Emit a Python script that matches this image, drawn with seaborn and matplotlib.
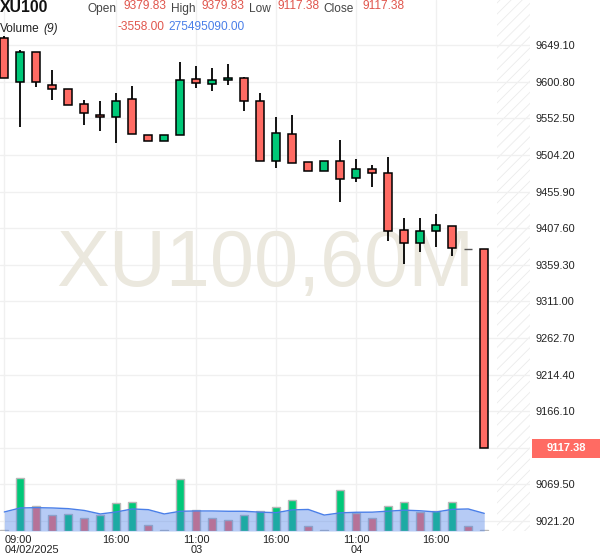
import numpy as np
import pandas as pd
import matplotlib
matplotlib.use("Agg")
import matplotlib.pyplot as plt
import matplotlib.transforms as mtransforms
from matplotlib.patches import Rectangle
import seaborn as sns

# ---------------- data ----------------
opens  = [9658.3, 9600.3, 9639.9, 9596.3, 9591.0, 9571.2, 9556.7, 9554.1, 9577.8, 9530.3,
          9522.4, 9530.7, 9604.2, 9597.6, 9602.9, 9605.5, 9575.2, 9496.0, 9531.6, 9494.7,
          9482.8, 9496.0, 9473.5, 9485.4, 9480.1, 9404.9, 9387.8, 9403.6, 9410.2, 9379.83,
          9379.83]
highs  = [9662.0, 9642.9, 9640.5, 9616.5, 9591.0, 9576.5, 9575.2, 9585.7, 9595.0, 9530.3,
          9530.3, 9626.7, 9621.4, 9618.7, 9624.0, 9606.9, 9585.7, 9554.1, 9556.7, 9494.7,
          9496.0, 9523.7, 9498.6, 9490.7, 9501.3, 9420.7, 9420.7, 9426.0, 9410.2, 9379.83,
          9379.83]
lows   = [9605.5, 9540.9, 9594.5, 9576.5, 9569.9, 9543.5, 9536.4, 9519.7, 9531.6, 9522.4,
          9522.4, 9530.7, 9592.3, 9588.4, 9597.1, 9562.0, 9496.0, 9486.7, 9493.4, 9482.8,
          9482.8, 9441.9, 9468.3, 9461.7, 9390.4, 9360.0, 9375.9, 9382.5, 9370.6, 9379.83,
          9117.38]
closes = [9605.5, 9639.9, 9600.3, 9591.0, 9569.9, 9559.3, 9554.1, 9575.2, 9531.6, 9522.4,
          9530.3, 9602.9, 9598.9, 9602.9, 9605.5, 9575.2, 9496.0, 9532.9, 9493.4, 9482.8,
          9496.0, 9472.2, 9485.4, 9480.1, 9403.6, 9387.8, 9403.6, 9411.6, 9381.1, 9379.83,
          9117.38]
# volume (millions)
volume = [520, 21200, 10120, 6520, 6800, 5200, 6400, 11200, 11600, 2400,
          400, 20680, 8400, 5320, 4520, 6520, 8000, 9600, 12400, 2000,
          520, 16280, 7320, 5200, 10000, 11480, 7600, 8000, 11480, 2000,
          275.5]
# Volume (9) moving average
volume_ma = [7600, 9200, 9320, 9200, 8920, 8200, 6800, 7600, 8800, 8520,
             6800, 7880, 8000, 8000, 7880, 7880, 7520, 7320, 8440, 8600,
             6360, 7240, 7480, 7520, 7920, 8320, 8080, 7600, 8640, 8800,
             7040]
xtick_idx = [0, 7, 12, 17, 22, 27]
xtick_labels = ["09:00\n04/02/2025", "16:00", "11:00\n03", "16:00", "11:00\n04", "16:00"]
y_ticks = [9021.20, 9069.50, 9117.80, 9166.10, 9214.40, 9262.70, 9311.00,
           9359.30, 9407.60, 9455.90, 9504.20, 9552.50, 9600.80, 9649.10]
symbol = "XU100"
watermark = "XU100,60M"
last_open, last_high, last_low, last_close = 9379.83, 9379.83, 9117.38, 9117.38
change_text = "-3558.00"
last_volume_text = "275495090.00"

# ---------------- style ----------------
GREEN = "#00c878"
RED = "#ff6b63"
TXT_RED = "#e0554c"
BLUE = "#4a7fe8"

sns.set_theme(style="white")
plt.rcParams["font.family"] = ["Liberation Sans", "DejaVu Sans"]
plt.rcParams["hatch.linewidth"] = 0.6

W, H = 600, 558
fig = plt.figure(figsize=(W / 100, H / 100), dpi=100)
fig.patch.set_facecolor("white")

ax_left, ax_right, ax_top, ax_bottom = 0, 530, 0, 531
rect = [ax_left / W, 1 - ax_bottom / H, (ax_right - ax_left) / W, (ax_bottom - ax_top) / H]
ax = fig.add_axes(rect)
ax.set_facecolor("white")

n = len(opens)
idx = np.arange(n)
df = pd.DataFrame({"i": idx, "open": opens, "high": highs, "low": lows,
                   "close": closes, "volume": volume, "ma": volume_ma})

XMIN, XMAX = -0.27, 32.86
ax.set_xlim(XMIN, XMAX)
ax.set_ylim(9008.0, 9708.9)

# future hatched region
ax.axvspan(30.8, XMAX, facecolor="none", edgecolor="#ebebeb", hatch="///",
           linewidth=0, zorder=0.5)

# watermark
ax.text(0.50, 0.50, watermark, transform=ax.transAxes, fontsize=57, color="#ebe8de",
        ha="center", va="center", zorder=0.8)

# candles
up = df["close"] >= df["open"]
colors = np.where(up, GREEN, RED)
doji = df["close"] == df["open"]
ax.vlines(df["i"], df["low"], df["high"], color="black", linewidth=1.3, zorder=2)
body_bottom = np.minimum(df["open"], df["close"])
body_h = np.abs(df["close"] - df["open"])
nd = ~doji
ax.bar(df["i"][nd], body_h[nd], bottom=body_bottom[nd], width=0.48,
       color=colors[nd], edgecolor="black", linewidth=1.1, zorder=3)
ax.hlines(df["close"][doji], df["i"][doji] - 0.25, df["i"][doji] + 0.25,
          color="#555555", linewidth=1.0, zorder=3)

# volume pane
ax_v = ax.twinx()
vdir = ["down"] + ["up" if volume[k] >= volume[k - 1] else "down" for k in range(1, n)]
df["vdir"] = vdir
sns.barplot(data=df, x="i", y="volume", hue="vdir", palette={"up": GREEN, "down": RED},
            native_scale=True, width=0.52, dodge=False, legend=False, errorbar=None,
            saturation=1, edgecolor="#b8b8b8", linewidth=1.0, ax=ax_v, zorder=2)
ax_v.fill_between(df["i"], 0, df["ma"], color=BLUE, alpha=0.4, linewidth=0, zorder=3)
sns.lineplot(data=df, x="i", y="ma", color=BLUE, linewidth=1.0, ax=ax_v, zorder=4)
ax_v.set_xlim(XMIN, XMAX)
ax_v.set_ylim(0, max(volume) * 10.0)
ax_v.set_xlabel("")
ax_v.set_ylabel("")
ax_v.set_yticks([])
for s in ax_v.spines.values():
    s.set_visible(False)

# axes / grid on the main (price) axes
ax.set_yticks(y_ticks)
ax.set_yticklabels([f"{v:.2f}" for v in y_ticks])
ax.set_xticks(xtick_idx)
ax.set_xticklabels(xtick_labels)
ax.grid(True, color="#f0f0f0", linewidth=1)
ax.set_axisbelow(True)
for s in ax.spines.values():
    s.set_visible(False)
ax.yaxis.tick_right()
ax.yaxis.set_label_position("right")
ax.tick_params(axis="y", which="both", left=False, right=False, labelleft=False,
               labelright=True, length=0, pad=4, labelsize=7.9, labelcolor="#222222")
ax.tick_params(axis="x", length=0, pad=3, labelsize=7.9, labelcolor="#222222")
for lab in ax.get_xticklabels():
    lab.set_linespacing(0.95)
ax.get_xticklabels()[0].set_horizontalalignment("left")
ax.set_xlabel("")
ax.set_ylabel("")

# last price label (covers the tick label beneath it)
hpx = 9.5 / 0.7576
for v, lab in zip(y_ticks, ax.get_yticklabels()):
    if abs(v - last_close) < 2 * hpx:
        lab.set_visible(False)
trans = mtransforms.blended_transform_factory(ax.transAxes, ax.transData)
ax.add_patch(Rectangle((532 / 530, last_close - hpx), 70 / 530, 2 * hpx,
                       transform=trans, facecolor=RED, edgecolor="none",
                       clip_on=False, zorder=10))
ax.text(566 / 530, last_close, f"{last_close:.2f}", transform=trans, color="white",
        fontsize=8, fontweight="bold", ha="center", va="center", zorder=11, clip_on=False)

# header
def fx(px):
    return px / W

def fy(py):
    return 1 - py / H

fig.text(fx(0), fy(8), symbol, fontsize=11.3, fontweight="bold", color="#111111",
         ha="left", va="center")
hdr = [(88, "Open", None), (124, f"{last_open:.2f}", TXT_RED), (171, "High", None),
       (202, f"{last_high:.2f}", TXT_RED), (249, "Low", None),
       (278, f"{last_low:.2f}", TXT_RED), (323, "Close", None),
       (362, f"{last_close:.2f}", TXT_RED)]
for xp, t, c in hdr:
    if c is None:
        fig.text(fx(xp), fy(9), t, fontsize=8.6, color="#444444", ha="left", va="center")
    else:
        fig.text(fx(xp), fy(6), t, fontsize=8.6, color=c, ha="left", va="center")
fig.text(fx(0), fy(29), "Volume", fontsize=8.6, color="#222222", ha="left", va="center")
fig.text(fx(43), fy(29), "(9)", fontsize=8.6, color="#222222", ha="left", va="center",
         style="italic")
fig.text(fx(117), fy(27.5), change_text, fontsize=8.6, color=TXT_RED, ha="left", va="center")
fig.text(fx(168), fy(27.5), last_volume_text, fontsize=8.6, color=BLUE, ha="left", va="center")

fig.savefig("out.png", dpi=100, facecolor="white")
